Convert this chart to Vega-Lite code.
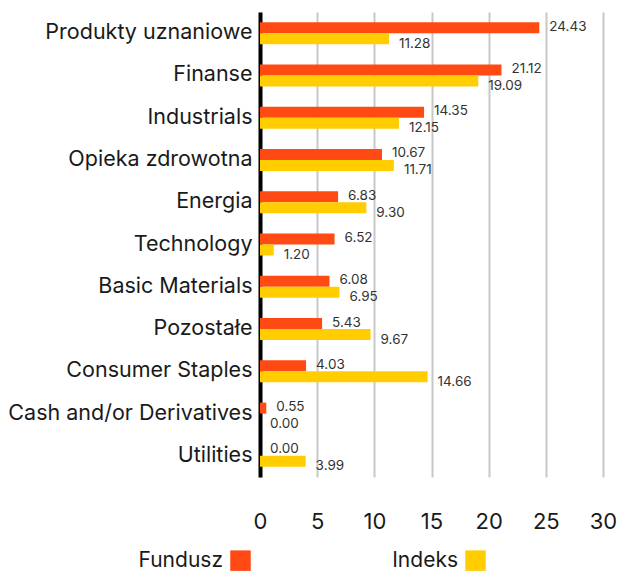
{
  "$schema": "https://vega.github.io/schema/vega-lite/v6.json",
  "autosize": "none",
  "width": 343,
  "height": 465,
  "padding": {"left": 260, "top": 12, "right": 14, "bottom": 97},
  "background": "white",
  "config": {
    "font": "Inter",
    "view": {"stroke": null},
    "legend": {"padding": 0}
  },
  "data": {
    "values": [
      {"category": "Produkty uznaniowe", "series": "Fundusz", "value": 24.43},
      {"category": "Produkty uznaniowe", "series": "Indeks", "value": 11.28},
      {"category": "Finanse", "series": "Fundusz", "value": 21.12},
      {"category": "Finanse", "series": "Indeks", "value": 19.09},
      {"category": "Industrials", "series": "Fundusz", "value": 14.35},
      {"category": "Industrials", "series": "Indeks", "value": 12.15},
      {"category": "Opieka zdrowotna", "series": "Fundusz", "value": 10.67},
      {"category": "Opieka zdrowotna", "series": "Indeks", "value": 11.71},
      {"category": "Energia", "series": "Fundusz", "value": 6.83},
      {"category": "Energia", "series": "Indeks", "value": 9.30},
      {"category": "Technology", "series": "Fundusz", "value": 6.52},
      {"category": "Technology", "series": "Indeks", "value": 1.20},
      {"category": "Basic Materials", "series": "Fundusz", "value": 6.08},
      {"category": "Basic Materials", "series": "Indeks", "value": 6.95},
      {"category": "Pozostałe", "series": "Fundusz", "value": 5.43},
      {"category": "Pozostałe", "series": "Indeks", "value": 9.67},
      {"category": "Consumer Staples", "series": "Fundusz", "value": 4.03},
      {"category": "Consumer Staples", "series": "Indeks", "value": 14.66},
      {"category": "Cash and/or Derivatives", "series": "Fundusz", "value": 0.55},
      {"category": "Cash and/or Derivatives", "series": "Indeks", "value": 0.00},
      {"category": "Utilities", "series": "Fundusz", "value": 0.00},
      {"category": "Utilities", "series": "Indeks", "value": 3.99}
    ]
  },
  "encoding": {
    "y": {
      "field": "category",
      "type": "nominal",
      "sort": null,
      "scale": {"paddingInner": 0.48, "paddingOuter": 0.24},
      "axis": {
        "title": null,
        "domain": true,
        "domainColor": "#000000",
        "domainWidth": 4,
        "ticks": false,
        "labelFontSize": 21.5,
        "labelPadding": 8,
        "labelColor": "#1a1a1a",
        "labelLimit": 300
      }
    },
    "x": {
      "field": "value",
      "type": "quantitative",
      "scale": {"domain": [0, 30], "nice": false},
      "axis": {
        "title": null,
        "values": [0, 5, 10, 15, 20, 25, 30],
        "domain": false,
        "ticks": false,
        "grid": true,
        "gridColor": "#c8c8c8",
        "gridWidth": 2,
        "labelFontSize": 22,
        "labelPadding": 34,
        "labelFlush": false,
        "labelColor": "#1a1a1a"
      }
    },
    "yOffset": {"field": "series", "type": "nominal", "sort": ["Fundusz", "Indeks"], "scale": {"paddingInner": 0, "paddingOuter": 0}}
  },
  "layer": [
    {
      "mark": {"type": "bar"},
      "encoding": {
        "color": {
          "field": "series",
          "type": "nominal",
          "scale": {"domain": ["Fundusz", "Indeks"], "range": ["#FF4A14", "#FFCD00"]},
          "legend": {
            "title": null,
            "orient": "none",
            "direction": "horizontal",
            "legendX": -30,
            "legendY": 538,
            "symbolType": "square",
            "symbolSize": 420,
            "symbolStrokeWidth": 0,
            "symbolOpacity": 1,
            "labelFontSize": 21,
            "labelColor": "#1a1a1a",
            "labelAlign": "right",
            "labelOffset": -28,
            "columnPadding": 141
          }
        }
      }
    },
    {
      "transform": [{"filter": "datum.series === 'Fundusz'"}],
      "mark": {"type": "text", "align": "left", "baseline": "middle", "dx": 10, "dy": -1, "fontSize": 13.5, "color": "#333333"},
      "encoding": {"text": {"field": "value", "type": "quantitative", "format": ".2f"}}
    },
    {
      "transform": [{"filter": "datum.series === 'Indeks'"}],
      "mark": {"type": "text", "align": "left", "baseline": "middle", "dx": 10, "dy": 5, "fontSize": 13.5, "color": "#333333"},
      "encoding": {"text": {"field": "value", "type": "quantitative", "format": ".2f"}}
    }
  ]
}
